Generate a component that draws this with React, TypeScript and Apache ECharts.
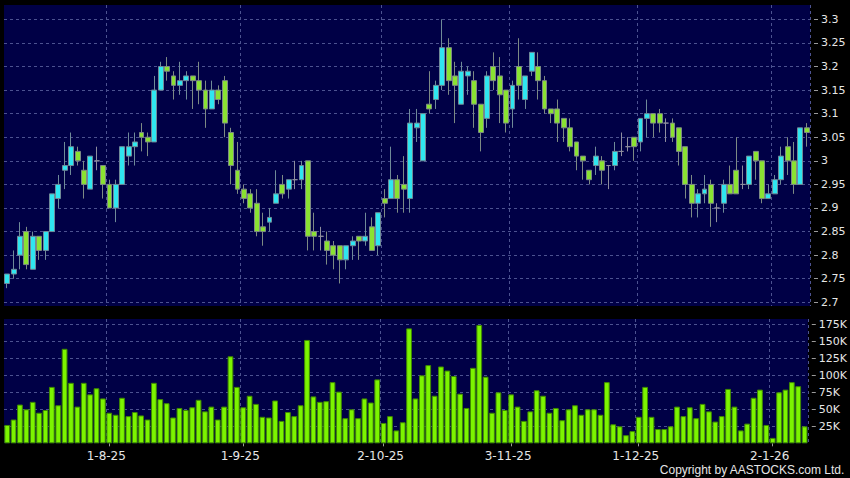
import React, { useEffect, useRef } from "react";
import * as echarts from "echarts";

// ---- data ----
const START_DATE = "2025-07-10";
const TRADING_DAY_COUNT = 126;
const HOLIDAYS = ["2025-10-01", "2025-10-07", "2025-10-29", "2025-12-25", "2025-12-26", "2026-01-01"];

// [open, close, low, high]
const OHLC: number[][] = [
  [2.74, 2.76, 2.73, 2.76], [2.76, 2.77, 2.75, 2.81], [2.80, 2.84, 2.77, 2.87], [2.85, 2.78, 2.77, 2.86],
  [2.77, 2.84, 2.77, 2.85], [2.84, 2.81, 2.79, 2.84], [2.81, 2.85, 2.79, 2.85], [2.85, 2.93, 2.85, 2.93],
  [2.92, 2.95, 2.90, 2.97], [2.98, 2.99, 2.94, 3.04], [2.99, 3.03, 2.97, 3.06], [3.02, 3.00, 2.99, 3.03],
  [2.98, 2.95, 2.92, 3.00], [2.94, 3.01, 2.94, 3.01], [3.00, 3.00, 2.98, 3.03], [2.99, 2.95, 2.92, 2.99],
  [2.95, 2.90, 2.90, 2.96], [2.90, 2.95, 2.87, 2.96], [2.95, 3.03, 2.95, 3.03], [3.01, 3.03, 2.99, 3.06],
  [3.03, 3.04, 2.99, 3.06], [3.06, 3.05, 3.02, 3.08], [3.05, 3.04, 3.01, 3.06], [3.04, 3.15, 3.04, 3.18],
  [3.15, 3.20, 3.15, 3.21], [3.20, 3.19, 3.17, 3.22], [3.18, 3.16, 3.13, 3.19], [3.16, 3.17, 3.14, 3.21],
  [3.17, 3.18, 3.13, 3.19], [3.18, 3.17, 3.11, 3.18], [3.17, 3.15, 3.12, 3.21], [3.15, 3.11, 3.07, 3.17],
  [3.11, 3.15, 3.11, 3.17], [3.15, 3.13, 3.12, 3.16], [3.17, 3.08, 3.05, 3.18], [3.06, 2.99, 2.95, 3.07],
  [2.98, 2.94, 2.93, 3.04], [2.94, 2.92, 2.91, 2.95], [2.93, 2.90, 2.89, 2.94], [2.91, 2.85, 2.84, 2.94],
  [2.86, 2.85, 2.82, 2.89], [2.87, 2.88, 2.85, 2.90], [2.91, 2.93, 2.91, 2.98], [2.95, 2.93, 2.92, 2.97],
  [2.94, 2.96, 2.92, 2.96], [2.96, 2.96, 2.94, 3.00], [2.96, 2.99, 2.94, 3.00], [3.00, 2.84, 2.81, 3.00],
  [2.85, 2.84, 2.81, 2.89], [2.84, 2.84, 2.81, 2.86], [2.83, 2.81, 2.78, 2.85], [2.82, 2.80, 2.77, 2.83],
  [2.82, 2.79, 2.74, 2.82], [2.79, 2.82, 2.77, 2.82], [2.82, 2.83, 2.79, 2.84], [2.84, 2.83, 2.79, 2.84],
  [2.83, 2.84, 2.82, 2.89], [2.86, 2.81, 2.81, 2.88], [2.82, 2.89, 2.80, 2.89], [2.92, 2.91, 2.88, 2.94],
  [2.92, 2.96, 2.92, 3.03], [2.96, 2.92, 2.89, 2.97], [2.95, 2.94, 2.89, 3.01], [2.92, 3.08, 2.89, 3.11],
  [3.07, 3.08, 3.04, 3.11], [3.00, 3.10, 3.00, 3.10], [3.12, 3.11, 3.10, 3.19], [3.13, 3.16, 3.11, 3.17],
  [3.16, 3.24, 3.15, 3.30], [3.24, 3.17, 3.14, 3.26], [3.18, 3.16, 3.08, 3.21], [3.12, 3.19, 3.12, 3.21],
  [3.18, 3.19, 3.14, 3.20], [3.17, 3.12, 3.07, 3.19], [3.12, 3.06, 3.02, 3.12], [3.09, 3.18, 3.07, 3.19],
  [3.20, 3.17, 3.15, 3.23], [3.18, 3.14, 3.08, 3.22], [3.15, 3.08, 3.06, 3.15], [3.11, 3.16, 3.07, 3.17],
  [3.20, 3.16, 3.13, 3.26], [3.13, 3.18, 3.11, 3.18], [3.19, 3.23, 3.18, 3.23], [3.20, 3.17, 3.13, 3.23],
  [3.17, 3.11, 3.10, 3.18], [3.11, 3.10, 3.08, 3.11], [3.11, 3.08, 3.04, 3.13], [3.09, 3.07, 3.04, 3.09],
  [3.07, 3.03, 3.02, 3.09], [3.04, 3.01, 2.98, 3.04], [3.01, 3.00, 2.96, 3.01], [2.98, 2.96, 2.95, 2.98],
  [2.99, 3.01, 2.97, 3.03], [3.00, 2.98, 2.95, 3.01], [2.99, 2.99, 2.94, 2.99], [2.99, 3.02, 2.98, 3.04],
  [3.02, 3.02, 3.01, 3.06], [3.03, 3.03, 3.02, 3.05], [3.05, 3.03, 3.00, 3.05], [3.04, 3.09, 3.02, 3.09],
  [3.09, 3.10, 3.05, 3.13], [3.10, 3.08, 3.05, 3.10], [3.10, 3.08, 3.06, 3.11], [3.08, 3.08, 3.04, 3.09],
  [3.08, 3.05, 3.04, 3.09], [3.07, 3.02, 2.99, 3.07], [3.03, 2.95, 2.92, 3.03], [2.95, 2.91, 2.88, 2.97],
  [2.91, 2.93, 2.88, 2.94], [2.93, 2.94, 2.91, 2.97], [2.95, 2.91, 2.86, 2.96], [2.90, 2.90, 2.87, 2.91],
  [2.91, 2.95, 2.89, 2.96], [2.95, 2.93, 2.93, 2.99], [2.98, 2.93, 2.93, 3.05], [2.95, 2.95, 2.94, 2.99],
  [2.95, 3.01, 2.94, 3.01], [3.02, 3.00, 2.96, 3.02], [3.00, 2.92, 2.91, 3.00], [2.92, 2.93, 2.92, 2.95],
  [2.93, 2.96, 2.93, 2.97], [2.96, 3.01, 2.95, 3.03], [3.03, 3.00, 2.97, 3.05], [3.00, 2.95, 2.93, 3.04],
  [2.95, 3.07, 2.95, 3.07], [3.07, 3.06, 3.03, 3.08],
];

// volume in thousands of shares
const VOLUME_K: number[] = [
  27, 35, 57, 50, 61, 45, 49, 83, 56, 139, 89, 54, 89, 72, 81, 66, 45, 42, 67, 40,
  46, 41, 35, 89, 65, 59, 38, 52, 49, 53, 64, 47, 54, 35, 54, 128, 83, 53, 70, 58,
  39, 38, 63, 33, 46, 40, 56, 152, 69, 61, 62, 90, 76, 37, 50, 37, 66, 60, 94, 30,
  40, 19, 31, 169, 66, 100, 115, 70, 113, 107, 99, 73, 52, 111, 174, 98, 45, 75, 49, 72,
  54, 33, 47, 78, 70, 45, 52, 34, 50, 56, 42, 50, 50, 42, 90, 28, 25, 12, 18, 39,
  83, 39, 21, 21, 25, 54, 40, 53, 37, 58, 47, 32, 40, 80, 54, 19, 29, 67, 79, 27,
  8, 75, 79, 90, 84, 25,
];

const PRICE_TICKS = [2.7, 2.75, 2.8, 2.85, 2.9, 2.95, 3.0, 3.05, 3.1, 3.15, 3.2, 3.25, 3.3];
const VOLUME_TICKS = [25000, 50000, 75000, 100000, 125000, 150000, 175000];
const PRICE_MIN = 2.6922;
const PRICE_MAX = 3.3304;
const VOLUME_MAX = 182800;

function buildTradingDays(start: string, count: number, holidays: string[]): string[] {
  const out: string[] = [];
  const d = new Date(start + "T00:00:00Z");
  while (out.length < count) {
    const wd = d.getUTCDay();
    const s = d.toISOString().slice(0, 10);
    if (wd !== 0 && wd !== 6 && holidays.indexOf(s) < 0) out.push(s);
    d.setUTCDate(d.getUTCDate() + 1);
  }
  return out;
}

const DATES = buildTradingDays(START_DATE, TRADING_DAY_COUNT, HOLIDAYS);

const NAVY = "#000046";
const GRID_LINE = { color: "#4c5290", width: 1, type: [3, 3] as number[] };
const TEXT = "#e6e6e6";

function isMonthStart(index: number): boolean {
  if (index <= 0) return false;
  return DATES[index].slice(0, 7) !== DATES[index - 1].slice(0, 7);
}

function fmtDate(v: string): string {
  const [y, m, d] = v.split("-");
  return `${+d}-${+m}-${y.slice(2)}`;
}

export default function App() {
  const ref = useRef<HTMLDivElement>(null);

  useEffect(() => {
    document.body.style.margin = "0";
    document.body.style.background = "#000";
    if (!ref.current) return;
    const chart = echarts.init(ref.current, undefined, { renderer: "svg" });
    const option: any = {
      animation: false,
      backgroundColor: "#000",
      grid: [
        { left: 4, top: 5, width: 806, height: 301, show: true, backgroundColor: NAVY, borderWidth: 0 },
        { left: 4, top: 319, width: 806, height: 124.33, show: true, backgroundColor: NAVY, borderWidth: 0 },
      ],
      xAxis: [
        {
          type: "category",
          gridIndex: 0,
          data: DATES,
          boundaryGap: true,
          axisLine: { show: false },
          axisTick: { show: false },
          axisLabel: { show: false },
          splitLine: { show: true, interval: (i: number) => isMonthStart(i), lineStyle: GRID_LINE },
        },
        {
          type: "category",
          gridIndex: 1,
          data: DATES,
          boundaryGap: true,
          offset: 3,
          axisLine: { show: false },
          axisTick: {
            show: true,
            alignWithLabel: true,
            length: 3,
            interval: (i: number) => isMonthStart(i),
            lineStyle: { color: "#9a9a9a" },
          },
          axisLabel: {
            interval: (i: number) => isMonthStart(i),
            formatter: (v: string) => fmtDate(v),
            color: TEXT,
            fontSize: 12,
            fontFamily: "DejaVu Sans",
            margin: 4,
            padding: [0, 6, 0, 0],
          },
          splitLine: { show: true, interval: (i: number) => isMonthStart(i), lineStyle: GRID_LINE },
        },
      ],
      yAxis: [
        {
          type: "value",
          gridIndex: 0,
          position: "right",
          min: PRICE_MIN,
          max: PRICE_MAX,
          offset: 4,
          axisLine: { show: false },
          axisTick: { show: true, length: 4, customValues: PRICE_TICKS, lineStyle: { color: "#9a9a9a" } },
          axisLabel: {
            customValues: PRICE_TICKS,
            margin: 7,
            color: TEXT,
            fontSize: 11,
            fontFamily: "DejaVu Sans",
            formatter: (v: number) => String(+v.toFixed(2)),
          },
          splitLine: { show: true, lineStyle: GRID_LINE },
        },
        {
          type: "value",
          gridIndex: 1,
          position: "right",
          min: 0,
          max: VOLUME_MAX,
          offset: 4,
          axisLine: { show: false },
          axisTick: { show: true, length: 4, customValues: VOLUME_TICKS, lineStyle: { color: "#9a9a9a" } },
          axisLabel: {
            customValues: VOLUME_TICKS,
            margin: 7,
            color: TEXT,
            fontSize: 11,
            fontFamily: "DejaVu Sans",
            formatter: (v: number) => `${Math.round(v / 1000)}K`,
          },
          splitLine: { show: true, lineStyle: GRID_LINE },
        },
      ],
      series: [
        {
          type: "candlestick",
          xAxisIndex: 0,
          yAxisIndex: 0,
          data: OHLC,
          barWidth: 5.4,
          clip: false,
          itemStyle: {
            color: "#2fe6f0",
            color0: "#8ae232",
            borderColor: "#6f8a98",
            borderColor0: "#7d8a84",
            borderColorDoji: "#8e8e9e",
            borderWidth: 1,
          },
        },
        {
          type: "bar",
          xAxisIndex: 1,
          yAxisIndex: 1,
          data: VOLUME_K.map((v) => v * 1000),
          barWidth: "90%",
          itemStyle: { color: "#7cf400", borderColor: "#3f8a00", borderWidth: 1 },
        },
      ],
      graphic: [
        {
          type: "text",
          right: 5,
          top: 464,
          style: {
            text: "Copyright by AASTOCKS.com Ltd.",
            fill: TEXT,
            font: '12px "Liberation Sans Narrow", "Liberation Sans", sans-serif',
          },
        },
      ],
    };
    chart.setOption(option);
    return () => chart.dispose();
  }, []);

  return <div ref={ref} style={{ width: 850, height: 478, background: "#000" }} />;
}
